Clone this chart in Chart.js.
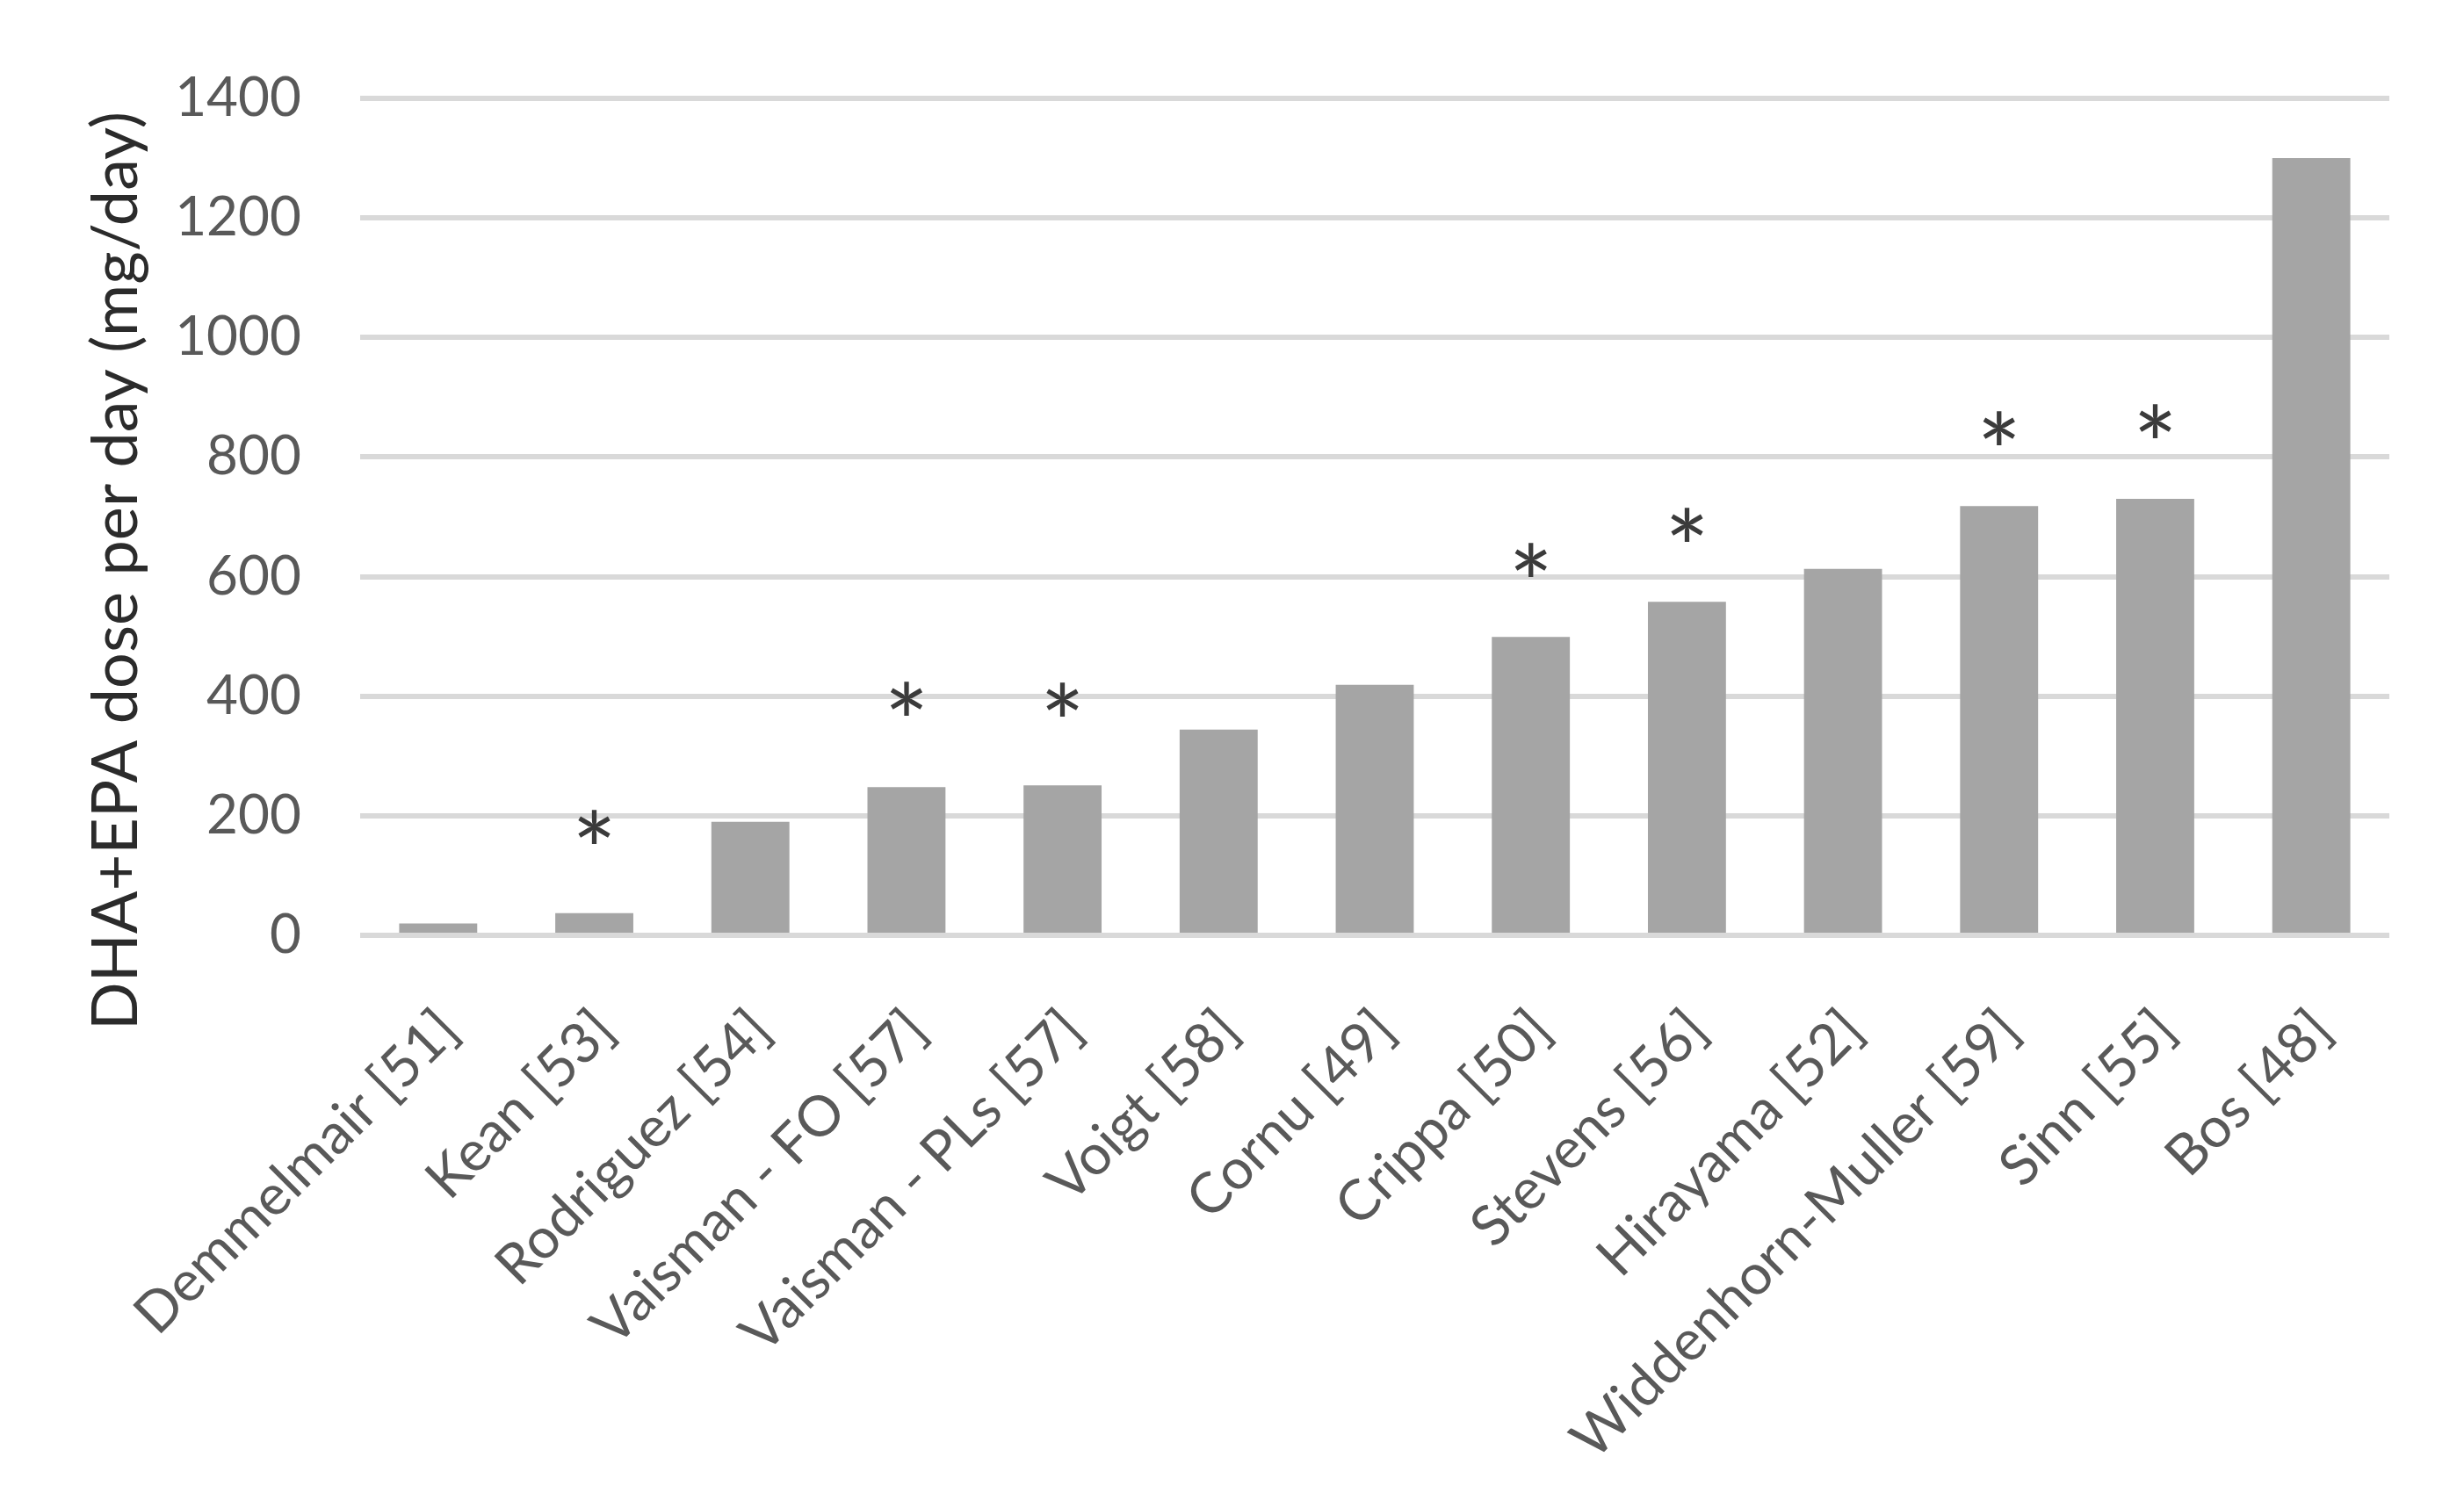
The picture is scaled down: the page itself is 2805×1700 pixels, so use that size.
<!DOCTYPE html>
<html>
<head>
<meta charset="utf-8">
<script src="https://cdn.jsdelivr.net/npm/chart.js@4.4.1/dist/chart.umd.min.js"></script>
<style>
    body { margin: 0; background: #fff; }
    canvas { display: block; }
</style>
</head>
<body>
<canvas id="doseChart" width="2805" height="1700"></canvas>
<script>
const studies = ['Demmelmair [51]', 'Kean [53]', 'Rodriguez [54]', 'Vaisman - FO [57]', 'Vaisman - PLs [57]',
    'Voigt [58]', 'Cornu [49]', 'Crippa [50]', 'Stevens [56]', 'Hirayama [52]', 'Widdenhorn-Muller [59]',
    'Sinn [55]', 'Bos [48]'];
const doses = [20, 37, 190, 248, 251, 344, 419, 499, 558, 613, 718, 730, 1300];
// height (mg/day) where each asterisk sits, null = no asterisk
const starLevels = [null, 182, null, 396, 394, null, null, 628, 687, null, 849, 860, null];
const yTicks = [0, 200, 400, 600, 800, 1000, 1200, 1400];

const yTitle = 'DHA+EPA dose per day (mg/day)';
const fontName = 'Lato, "Open Sans", sans-serif';

// asterisks above the bars + y axis title
const extrasPlugin = {
    id: 'extras',
    afterDraw(chart) {
        const ctx = chart.ctx;
        const x = chart.scales.x, y = chart.scales.y;
        ctx.save();
        ctx.fillStyle = '#3b3b3b';
        ctx.font = '120px ' + fontName;
        ctx.textAlign = 'center';
        ctx.textBaseline = 'alphabetic';
        const m = ctx.measureText('*');
        const shift = (m.actualBoundingBoxAscent - m.actualBoundingBoxDescent) / 2;
        starLevels.forEach((v, i) => {
            if (v === null) return;
            ctx.fillText('*', x.getPixelForValue(i), y.getPixelForValue(v) + shift);
        });

        ctx.fillStyle = '#2b2b2b';
        ctx.font = '72px ' + fontName;
        ctx.textBaseline = 'middle';
        ctx.translate(133, 650);
        ctx.rotate(-Math.PI / 2);
        ctx.fillText(yTitle, 0, 0);
        ctx.restore();
    }
};

const ctx = document.getElementById('doseChart').getContext('2d');
const chart = new Chart(ctx, {
    type: 'bar',
    data: {
        labels: studies,
        datasets: [{
            data: doses,
            backgroundColor: '#a5a5a5',
            barPercentage: 0.5,
            categoryPercentage: 1.0
        }]
    },
    options: {
        responsive: false,
        animation: false,
        layout: { padding: { top: 112, right: 85, left: 0, bottom: 0 } },
        plugins: { legend: { display: false }, tooltip: { enabled: false } },
        scales: {
            x: {
                grid: { display: false, drawTicks: false },
                border: { display: false },
                ticks: {
                    color: '#595959',
                    font: { family: fontName, size: 64 },
                    minRotation: 45,
                    maxRotation: 45,
                    autoSkip: false,
                    padding: 70,
                    labelOffset: 12
                },
                afterFit(scale) { scale.height = 635; }
            },
            y: {
                min: 0,
                max: 1400,
                afterBuildTicks(scale) { scale.ticks = yTicks.map(v => ({ value: v })); },
                grid: { color: '#d9d9d9', lineWidth: 6, drawTicks: false },
                border: { display: false },
                ticks: {
                    color: '#595959',
                    font: { family: fontName, size: 62 },
                    padding: 67,
                    callback: v => String(v)
                },
                afterFit(scale) { scale.width = 410; }
            }
        }
    },
    plugins: [extrasPlugin]
});
</script>
</body>
</html>
